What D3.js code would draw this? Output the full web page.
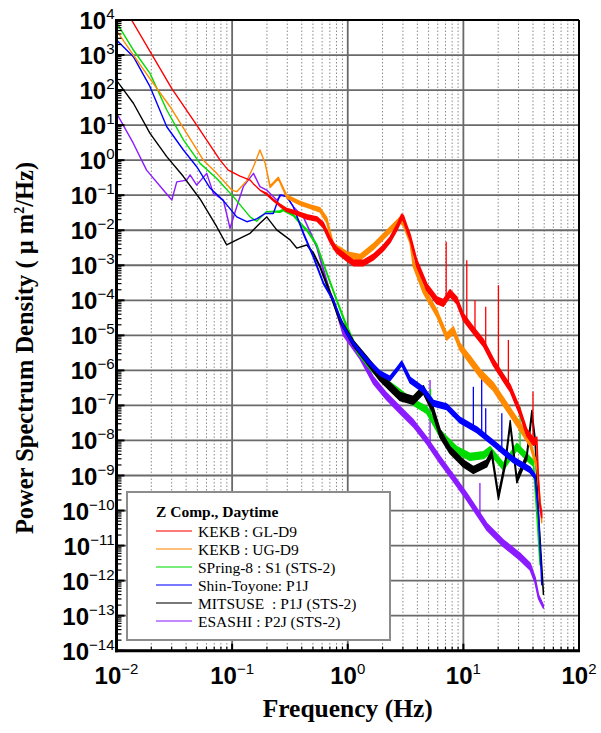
<!DOCTYPE html>
<html>
<head>
<meta charset="utf-8">
<script src="https://cdnjs.cloudflare.com/ajax/libs/d3/7.8.5/d3.min.js"></script>
<style>
  body { margin: 0; background: #fff; }
</style>
</head>
<body>
<script>
// tick labels (powers of ten)
const xTickExps = [-2, -1, 0, 1, 2];
const yTickExps = [4, 3, 2, 1, 0, -1, -2, -3, -4, -5, -6, -7, -8, -9, -10, -11, -12, -13, -14];

const seriesNames = [
    "KEKB : GL-D9",
    "KEKB : UG-D9",
    "SPring-8 : S1 (STS-2)",
    "Shin-Toyone: P1J",
    "MITSUSE  : P1J (STS-2)",
    "ESASHI : P2J (STS-2)"
];
const seriesColors = ["#ff0000", "#ff8a00", "#00dc00", "#0000ff", "#000000", "#8b1cff"];

// [frequency Hz, PSD um^2/Hz, scatter factor of the noisy band]
const kekbGL = [
    [0.01, 5.5e4, 1], [0.0135, 1.0e4, 1], [0.0301, 1.1e2, 1], [0.0494, 10, 1],
    [0.0786, 1.0, 1], [0.0926, 0.52, 1], [0.117, 0.35, 1], [0.143, 0.27, 1],
    [0.153, 0.21, 1], [0.174, 0.14, 1], [0.199, 0.108, 1.05], [0.227, 0.073, 1.05],
    [0.259, 0.052, 1.08], [0.297, 0.038, 1.1], [0.362, 0.031, 1.12], [0.442, 0.024, 1.15],
    [0.54, 0.021, 1.15], [0.615, 0.014, 1.18], [0.703, 0.0053, 1.18], [0.80, 0.0027, 1.2],
    [0.98, 0.0016, 1.2], [1.12, 0.00116, 1.2], [1.36, 0.00116, 1.2], [1.66, 0.0017, 1.2],
    [2.03, 0.0031, 1.2], [2.32, 0.0053, 1.2], [2.65, 0.0116, 1.2], [2.93, 0.024, 1.2],
    [3.03, 0.022, 1.2], [3.24, 0.0116, 1.2], [3.46, 0.0064, 1.2], [3.95, 0.00116, 1.25],
    [4.82, 2.4e-4, 1.25], [5.89, 1.0e-4, 1.25], [6.71, 8.4e-5, 1.25], [7.67, 1.6e-4, 1.25],
    [8.77, 1.0e-4, 1.25], [10.0, 3.3e-5, 1.25], [12.2, 1.4e-5, 1.25], [14.9, 6.1e-6, 1.25],
    [18.2, 1.7e-6, 1.25], [22.2, 6.1e-7, 1.25], [25.4, 3.1e-7, 1.25], [30.9, 6.5e-8, 1.25],
    [35.3, 1.7e-8, 1.25], [40.4, 9.1e-9, 1.25], [43.2, 1.0e-8, 1.25], [44.6, 7.4e-10, 1.2],
    [46.0, 1.4e-10, 1.2], [47.6, 7.5e-11, 1.2]
];
const kekbUG = [
    [0.01, 5.0e3, 1], [0.015, 720, 1], [0.0208, 156, 1], [0.029, 34, 1],
    [0.0405, 5.8, 1], [0.0564, 1.0, 1], [0.0736, 0.42, 1], [0.0993, 0.14, 1],
    [0.1096, 0.126, 1], [0.134, 0.26, 1], [0.153, 0.65, 1], [0.174, 1.95, 1],
    [0.193, 0.81, 1], [0.213, 0.175, 1.05], [0.251, 0.31, 1.05], [0.297, 0.091, 1.1],
    [0.386, 0.059, 1.12], [0.472, 0.047, 1.12], [0.576, 0.038, 1.15], [0.658, 0.0196, 1.18],
    [0.751, 0.0034, 1.2], [0.858, 0.0027, 1.2], [0.98, 0.0020, 1.2], [1.28, 0.0017, 1.2],
    [1.66, 0.0034, 1.2], [2.17, 0.0082, 1.2], [2.83, 0.0196, 1.2], [3.03, 0.0158, 1.2],
    [3.46, 0.0053, 1.25], [3.69, 0.00114, 1.25], [4.51, 2.0e-4, 1.25], [5.89, 4.3e-5, 1.25],
    [7.18, 9.2e-6, 1.25], [8.19, 1.4e-5, 1.25], [9.36, 4.7e-6, 1.25], [11.4, 2.0e-6, 1.3],
    [13.9, 8.3e-7, 1.3], [18.2, 3.4e-7, 1.3], [23.7, 9.2e-8, 1.3], [30.9, 2.5e-8, 1.3],
    [37.8, 8.3e-9, 1.25], [43.2, 1.8e-9, 1.2], [47.6, 5.4e-11, 1.2]
];
const spring8 = [
    [0.01, 8.5e3, 1], [0.014, 1.39e3, 1], [0.0195, 300, 1], [0.0272, 27, 1],
    [0.0379, 3.8, 1], [0.0528, 0.81, 1], [0.0736, 0.3, 1], [0.1024, 0.091, 1],
    [0.143, 0.024, 1], [0.163, 0.018, 1], [0.199, 0.034, 1], [0.259, 0.034, 1.05],
    [0.277, 0.038, 1.05], [0.338, 0.027, 1.05], [0.413, 0.0126, 1.05], [0.442, 0.0102, 1.05],
    [0.539, 0.0038, 1.05], [0.658, 6.0e-4, 1.05], [0.803, 1.0e-4, 1.05], [0.98, 1.77e-5, 1.1],
    [1.2, 3.8e-6, 1.15], [1.56, 1.28e-6, 1.2], [2.03, 5.3e-7, 1.2], [2.65, 2.8e-7, 1.2],
    [3.46, 1.4e-7, 1.2], [4.82, 7.4e-8, 1.25], [6.28, 1.6e-8, 1.25], [8.77, 5.3e-9, 1.25],
    [11.4, 3.4e-9, 1.25], [14.9, 3.8e-9, 1.25], [17.0, 5.3e-9, 1.25], [22.2, 1.8e-9, 1.25],
    [29.0, 6.6e-9, 1.25], [35.3, 3.4e-9, 1.25], [40.4, 2.2e-9, 1.2], [43.2, 8.4e-11, 1.15],
    [46.0, 3.1e-12, 1.1]
];
const shinToyone = [
    [0.01, 2.7e3, 1], [0.014, 900, 1], [0.0195, 125, 1], [0.0272, 9.0, 1],
    [0.0379, 1.95, 1], [0.0494, 0.65, 1], [0.0644, 0.16, 1], [0.0839, 0.07, 1],
    [0.1096, 0.024, 1], [0.134, 0.0175, 1], [0.163, 0.021, 1], [0.193, 0.030, 1],
    [0.227, 0.030, 1], [0.259, 0.101, 1], [0.297, 0.091, 1], [0.338, 0.047, 1],
    [0.413, 0.0082, 1.05], [0.504, 0.00176, 1.05], [0.615, 3.1e-4, 1.05], [0.75, 1.0e-4, 1.05],
    [0.916, 1.77e-5, 1.1], [1.12, 5.9e-6, 1.1], [1.46, 2.0e-6, 1.15], [1.9, 8.3e-7, 1.15],
    [2.32, 5.9e-7, 1.15], [2.65, 1.03e-6, 1.15], [2.93, 1.6e-6, 1.15], [3.46, 5.3e-7, 1.2],
    [4.51, 2.8e-7, 1.2], [5.5, 1.15e-7, 1.2], [7.18, 9.2e-8, 1.2], [9.36, 3.8e-8, 1.2],
    [13.1, 2.0e-8, 1.2], [18.2, 8.3e-9, 1.2], [27.1, 2.8e-9, 1.2], [37.8, 1.44e-9, 1.2],
    [41.7, 9.2e-10, 1.15], [44.6, 8.4e-11, 1.1], [47.6, 8.4e-13, 1.1]
];
const mitsuse = [
    [0.01, 190, 1], [0.014, 42, 1], [0.0195, 5.8, 1], [0.0272, 1.26, 1],
    [0.0379, 0.34, 1], [0.0528, 0.078, 1], [0.0736, 0.0126, 1], [0.0897, 0.0038, 1],
    [0.1096, 0.0053, 1], [0.143, 0.0082, 1], [0.174, 0.0158, 1], [0.199, 0.024, 1],
    [0.243, 0.0102, 1], [0.317, 0.0053, 1], [0.362, 0.0031, 1], [0.442, 0.0038, 1],
    [0.504, 0.0022, 1.05], [0.576, 9.1e-4, 1.05], [0.703, 1.6e-4, 1.1], [0.858, 2.7e-5, 1.15],
    [1.12, 5.9e-6, 1.2], [1.46, 2.0e-6, 1.25], [1.9, 6.6e-7, 1.3], [2.32, 3.4e-7, 1.3],
    [2.83, 1.8e-7, 1.3], [3.69, 1.4e-7, 1.3], [4.51, 2.8e-7, 1.3], [5.33, 9.2e-8, 1.3],
    [6.28, 1.6e-8, 1.3], [7.67, 5.3e-9, 1.25], [10.0, 2.2e-9, 1.25], [12.2, 1.44e-9, 1.25],
    [15.9, 2.2e-9, 1.25], [17.6, 4.3e-9, 1.2], [20.1, 2.5e-10, 1.2], [23.0, 2.2e-9, 1.2],
    [25.4, 3.1e-8, 1.2], [29.0, 7.4e-10, 1.2], [35.3, 3.4e-9, 1.2], [39.1, 6.0e-8, 1.2],
    [41.7, 1.0e-8, 1.2], [44.6, 8.4e-11, 1.1], [49.2, 4.4e-13, 1.1]
];
const esashi = [
    [0.01, 22, 1], [0.014, 3.0, 1], [0.0182, 0.52, 1], [0.0254, 0.14, 1],
    [0.0301, 0.073, 1], [0.0332, 0.24, 1], [0.0405, 0.27, 1], [0.0433, 0.38, 1],
    [0.0494, 0.195, 1], [0.0603, 0.42, 1], [0.0688, 0.113, 1], [0.0839, 0.073, 1],
    [0.0959, 0.0114, 1], [0.1096, 0.047, 1], [0.125, 0.175, 1], [0.153, 0.42, 1],
    [0.174, 0.175, 1], [0.199, 0.14, 1], [0.243, 0.073, 1], [0.268, 0.101, 1],
    [0.297, 0.091, 1], [0.338, 0.047, 1], [0.413, 0.024, 1], [0.539, 0.0034, 1.05],
    [0.703, 1.6e-4, 1.1], [0.751, 1.0e-4, 1.1], [0.916, 1.15e-5, 1.15], [1.28, 2.5e-6, 1.2],
    [1.66, 5.3e-7, 1.25], [2.17, 1.8e-7, 1.25], [2.83, 7.4e-8, 1.25], [3.69, 3.1e-8, 1.25],
    [4.82, 1.0e-8, 1.25], [6.28, 2.8e-9, 1.25], [8.19, 8.5e-10, 1.25], [10.7, 2.5e-10, 1.25],
    [15.9, 3.5e-11, 1.25], [22.2, 1.16e-11, 1.25], [30.9, 4.8e-12, 1.25], [37.8, 2.5e-12, 1.25],
    [41.7, 1.04e-12, 1.2], [44.6, 3.5e-13, 1.15], [49.2, 1.8e-13, 1.1]
];

// narrow line peaks [frequency, top value]
const kekbGLSpikes = [[7.1, 4.7e-3], [10.7, 1.4e-3], [12.6, 1.0e-4], [15.6, 6.6e-5], [20.1, 2.7e-4], [24.5, 7.4e-6], [40, 2.5e-7]];
const spring8Spikes = [[30.9, 9.2e-8], [5.2, 3.0e-7]];
const shinToyoneSpikes = [[12.2, 3.4e-7], [14.4, 1.0e-6], [15.6, 8.3e-8], [21.5, 6.0e-8]];
const esashiSpikes = [[5.15, 5.3e-7], [13.9, 6.1e-10]];

const allSeries = [kekbGL, kekbUG, spring8, shinToyone, mitsuse, esashi];
const allSpikes = [kekbGLSpikes, [], spring8Spikes, shinToyoneSpikes, [], esashiSpikes];
const drawOrder = [5, 2, 4, 3, 1, 0];

const width = 601, height = 733;
const plot = {left: 116.5, right: 579, top: 20, bottom: 650.7};

const sans = "'Liberation Sans', Arial, Helvetica, sans-serif";
const serif = "'Liberation Serif', 'Times New Roman', Times, serif";

const svg = d3.select("body").append("svg")
    .attr("width", width)
    .attr("height", height);

const x = d3.scaleLog().domain([1e-2, 1e2]).range([plot.left, plot.right]);
const y = d3.scaleLog().domain([1e-14, 1e4]).range([plot.bottom, plot.top]);

const xMajor = xTickExps.map(e => Math.pow(10, e));
const yMajor = yTickExps.map(e => Math.pow(10, e));
const xMinor = [];
xTickExps.slice(0, -1).forEach(e => { for (let k = 2; k <= 9; k++) xMinor.push(k * Math.pow(10, e)); });
const yMinor = [];
yTickExps.slice(1).forEach(e => { for (let k = 2; k <= 9; k++) yMinor.push(k * Math.pow(10, e)); });

// grid
const grid = svg.append("g");
grid.selectAll(".vminor").data(xMinor).enter().append("line")
    .attr("x1", d => x(d)).attr("x2", d => x(d))
    .attr("y1", plot.top).attr("y2", plot.bottom)
    .attr("stroke", "#8a8a8a").attr("stroke-width", 1)
    .attr("stroke-dasharray", "1.5,2");
grid.selectAll(".vmajor").data(xMajor).enter().append("line")
    .attr("x1", d => x(d)).attr("x2", d => x(d))
    .attr("y1", plot.top).attr("y2", plot.bottom)
    .attr("stroke", "#6a6a6a").attr("stroke-width", 1.8);
grid.selectAll(".hmajor").data(yMajor).enter().append("line")
    .attr("x1", plot.left).attr("x2", plot.right)
    .attr("y1", d => y(d)).attr("y2", d => y(d))
    .attr("stroke", "#6a6a6a").attr("stroke-width", 1.8);

// series
svg.append("clipPath").attr("id", "clip")
    .append("rect")
    .attr("x", plot.left).attr("y", plot.top)
    .attr("width", plot.right - plot.left).attr("height", plot.bottom - plot.top);

const band = d3.area()
    .x(d => x(d[0]))
    .y0(d => y(d[1] / d[2]))
    .y1(d => y(d[1] * d[2]));

function valueAt(data, f) {
    const i = Math.max(1, Math.min(data.length - 1, d3.bisector(d => d[0]).left(data, f)));
    const a = data[i - 1], b = data[i];
    const t = (Math.log(f) - Math.log(a[0])) / (Math.log(b[0]) - Math.log(a[0]));
    return Math.exp(Math.log(a[1]) + t * (Math.log(b[1]) - Math.log(a[1])));
}

const curves = svg.append("g").attr("clip-path", "url(#clip)");
drawOrder.forEach(i => {
    const g = curves.append("g");
    g.append("path")
        .datum(allSeries[i])
        .attr("d", band)
        .attr("fill", seriesColors[i])
        .attr("stroke", seriesColors[i])
        .attr("stroke-width", 1.4)
        .attr("stroke-linejoin", "round");
    g.selectAll("line").data(allSpikes[i]).enter().append("line")
        .attr("x1", d => x(d[0])).attr("x2", d => x(d[0]))
        .attr("y1", d => y(valueAt(allSeries[i], d[0])))
        .attr("y2", d => y(d[1]))
        .attr("stroke", seriesColors[i])
        .attr("stroke-width", 1.3);
});

// ticks
const ticks = svg.append("g").attr("stroke", "#000");
ticks.selectAll(".ym").data(yMinor).enter().append("line")
    .attr("x1", plot.left).attr("x2", plot.left + 5)
    .attr("y1", d => y(d)).attr("y2", d => y(d)).attr("stroke-width", 1.2);
ticks.selectAll(".yM").data(yMajor).enter().append("line")
    .attr("x1", plot.left).attr("x2", plot.left + 8)
    .attr("y1", d => y(d)).attr("y2", d => y(d)).attr("stroke-width", 2);
ticks.selectAll(".xm").data(xMinor).enter().append("line")
    .attr("x1", d => x(d)).attr("x2", d => x(d))
    .attr("y1", plot.bottom).attr("y2", plot.bottom - 4).attr("stroke-width", 1.2);
ticks.selectAll(".xM").data(xMajor).enter().append("line")
    .attr("x1", d => x(d)).attr("x2", d => x(d))
    .attr("y1", plot.bottom).attr("y2", plot.bottom - 7).attr("stroke-width", 2);

// frame
svg.append("line").attr("x1", plot.left).attr("x2", plot.right).attr("y1", plot.top).attr("y2", plot.top)
    .attr("stroke", "#000").attr("stroke-width", 2);
svg.append("line").attr("x1", plot.right).attr("x2", plot.right).attr("y1", plot.top).attr("y2", plot.bottom)
    .attr("stroke", "#000").attr("stroke-width", 2);
svg.append("line").attr("x1", plot.left).attr("x2", plot.left).attr("y1", plot.top - 1).attr("y2", plot.bottom + 1.5)
    .attr("stroke", "#000").attr("stroke-width", 3);
svg.append("line").attr("x1", plot.left - 1.5).attr("x2", plot.right + 1).attr("y1", plot.bottom).attr("y2", plot.bottom)
    .attr("stroke", "#000").attr("stroke-width", 3);

// tick labels
const expText = e => (e < 0 ? "\u2212" + (-e) : String(e));

const yLab = svg.append("g").attr("font-family", sans).attr("font-weight", "bold")
    .attr("font-size", 24).attr("fill", "#000");
yTickExps.forEach(e => {
    const t = yLab.append("text")
        .attr("x", plot.left - 2)
        .attr("y", y(Math.pow(10, e)) + 9)
        .attr("text-anchor", "end");
    t.append("tspan").text("10");
    t.append("tspan").attr("dy", -10).attr("font-size", 15).attr("font-weight", "normal").text(expText(e));
});

const xLab = svg.append("g").attr("font-family", sans).attr("font-weight", "bold")
    .attr("font-size", 24).attr("fill", "#000");
xTickExps.forEach(e => {
    const t = xLab.append("text")
        .attr("x", x(Math.pow(10, e)))
        .attr("y", 684)
        .attr("text-anchor", "middle");
    t.append("tspan").text("10");
    t.append("tspan").attr("dy", -10).attr("font-size", 15).attr("font-weight", "normal").text(expText(e));
});

// axis titles
svg.append("text")
    .attr("x", (plot.left + plot.right) / 2)
    .attr("y", 717)
    .attr("text-anchor", "middle")
    .attr("font-family", serif)
    .attr("font-weight", "bold")
    .attr("font-size", 25.5)
    .text("Frequency (Hz)");

const yTitle = svg.append("text")
    .attr("transform", "translate(33,348) rotate(-90)")
    .attr("text-anchor", "middle")
    .attr("font-family", serif)
    .attr("font-weight", "bold")
    .attr("font-size", 24.5);
yTitle.append("tspan").text("Power Spectrum Density ( \u03bc m");
yTitle.append("tspan").attr("dy", -9).attr("font-size", 14).text("2");
yTitle.append("tspan").attr("dy", 9).text("/Hz)");

// legend
const legend = svg.append("g");
legend.append("rect")
    .attr("x", 127).attr("y", 492).attr("width", 263).attr("height", 148)
    .attr("fill", "#fff").attr("stroke", "#8c8c8c").attr("stroke-width", 2);
legend.append("text")
    .attr("x", 156).attr("y", 517)
    .attr("font-family", serif).attr("font-weight", "bold").attr("font-size", 15.5)
    .text("Z Comp., Daytime");
seriesNames.forEach((name, i) => {
    const yy = 537 + i * 18;
    legend.append("line")
        .attr("x1", 156).attr("x2", 192)
        .attr("y1", yy - 6).attr("y2", yy - 6)
        .attr("stroke", seriesColors[i]).attr("stroke-opacity", 0.7)
        .attr("stroke-width", 1.6);
    legend.append("text")
        .attr("x", 198).attr("y", yy)
        .attr("font-family", serif).attr("font-size", 15.5)
        .style("white-space", "pre")
        .text(name);
});
</script>
</body>
</html>
